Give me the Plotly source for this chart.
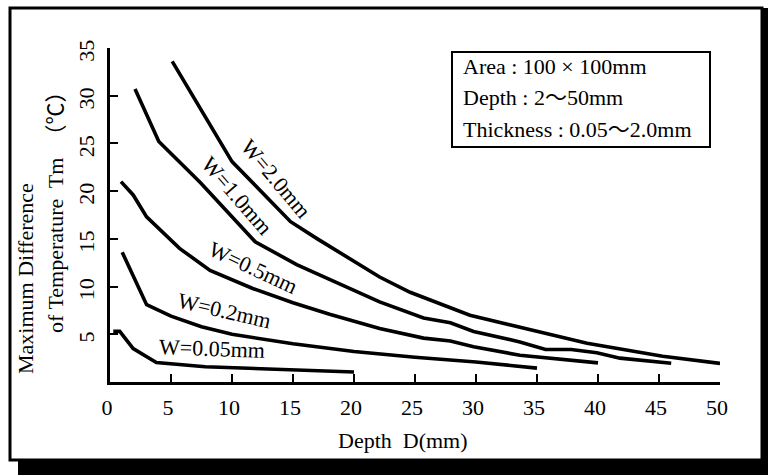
import plotly.graph_objects as go

# Curve data: depth D (mm) vs maximum temperature difference Tm (deg C) per wall thickness W
d_w200 = [5.1, 10.0, 14.8, 17.0, 22.1, 24.6, 29.5, 35.0, 39.1, 45.3, 50.0]
t_w200 = [33.6, 23.1, 16.8, 15.0, 11.0, 9.4, 7.0, 5.3, 4.05, 2.7, 1.95]

d_w100 = [2.05, 4.0, 7.4, 10.7, 11.9, 15.3, 20.0, 22.1, 25.7, 27.9, 29.8, 33.6, 35.7, 37.8, 39.9, 41.8, 46.0]
t_w100 = [30.7, 25.2, 20.9, 16.3, 14.7, 12.3, 9.6, 8.4, 6.7, 6.2, 5.3, 4.2, 3.4, 3.4, 3.07, 2.5, 1.96]

d_w050 = [0.9, 1.9, 3.0, 5.7, 8.2, 11.7, 15.0, 18.0, 22.1, 25.7, 27.9, 29.8, 33.6, 35.2, 40.0]
t_w050 = [21.0, 19.6, 17.3, 14.0, 11.7, 9.8, 8.3, 7.1, 5.6, 4.6, 4.3, 3.7, 2.8, 2.6, 2.0]

d_w020 = [1.0, 3.0, 5.0, 7.5, 10.0, 12.0, 15.0, 20.0, 25.0, 30.0, 35.0]
t_w020 = [13.6, 8.1, 6.9, 5.8, 5.0, 4.6, 4.0, 3.2, 2.6, 2.1, 1.45]

d_w005 = [0.27, 0.8, 1.9, 3.8, 7.8, 20.0]
t_w005 = [5.3, 5.3, 3.5, 2.05, 1.6, 1.05]

x_ticks = [0, 5, 10, 15, 20, 25, 30, 35, 40, 45, 50]
y_ticks = [5, 10, 15, 20, 25, 30, 35]

condition_lines = ["Area : 100 × 100mm", "Depth : 2～50mm", "Thickness : 0.05～2.0mm"]

SERIF = "Liberation Serif, Times New Roman, Noto Sans CJK JP, serif"
FS = 22

# plot area in pixels (768 x 475 page)
L, R, T, B = 110, 48, 48, 93
W_PX, H_PX = 768, 475
PW, PH = W_PX - L - R, H_PX - T - B


def px(x):
    return (x - L) / PW


def py(y):
    return (H_PX - B - y) / PH


def label(text, x, y, angle=0, xanchor="center", size=FS):
    return dict(text=text, x=px(x), y=py(y), xref="paper", yref="paper",
                xanchor=xanchor, yanchor="middle", showarrow=False, textangle=angle,
                font=dict(family=SERIF, size=size, color="black"))


fig = go.Figure()
series = [
    ("W=2.0mm", d_w200, t_w200),
    ("W=1.0mm", d_w100, t_w100),
    ("W=0.5mm", d_w050, t_w050),
    ("W=0.2mm", d_w020, t_w020),
    ("W=0.05mm", d_w005, t_w005),
]
for name, xs, ys in series:
    fig.add_trace(go.Scatter(x=xs, y=ys, mode="lines", name=name,
                             line=dict(color="black", width=3.6),
                             showlegend=False, hoverinfo="skip"))

# curve labels laid along each line: (text, x px, y px, angle)
curve_labels = [
    ("W=2.0mm", 276, 178, 50),
    ("W=1.0mm", 237, 195, 49),
    ("W=0.5mm", 253, 267, 25),
    ("W=0.2mm", 224, 310, 13),
    ("W=0.05mm", 212, 348, 2),
]
annotations = [label(t, x, y, a) for t, x, y, a in curve_labels]

# axis titles
annotations.append(label("Maximum Difference", 25, 279, -90))
annotations.append(label("of Temperature  Tm  （℃）", 55, 207, -90))
annotations.append(label("Depth  D(mm)", 403, 441))

# conditions box text
for i, line in enumerate(condition_lines):
    annotations.append(label(line, 461, 67 + 31 * i, xanchor="left"))

shapes = [
    # outer frame
    dict(type="rect", xref="paper", yref="paper", x0=px(10), x1=px(762), y0=py(460), y1=py(8),
         line=dict(color="black", width=3), fillcolor="rgba(0,0,0,0)", layer="below"),
    # drop shadow, right and bottom
    dict(type="rect", xref="paper", yref="paper", x0=px(762), x1=px(768), y0=py(475), y1=py(8),
         line=dict(width=0), fillcolor="black"),
    dict(type="rect", xref="paper", yref="paper", x0=px(18), x1=px(768), y0=py(475), y1=py(460),
         line=dict(width=0), fillcolor="black"),
    # conditions box
    dict(type="rect", xref="paper", yref="paper", x0=px(452), x1=px(710), y0=py(147), y1=py(52),
         line=dict(color="black", width=2), fillcolor="white"),
]

fig.update_layout(
    width=W_PX, height=H_PX,
    margin=dict(l=L, r=R, t=T, b=B, pad=0),
    paper_bgcolor="white", plot_bgcolor="white",
    annotations=annotations, shapes=shapes,
    xaxis=dict(range=[0, 50], tickvals=x_ticks, ticktext=[str(v) for v in x_ticks],
               ticks="inside", ticklen=8, tickwidth=2, tickcolor="black",
               showline=True, linecolor="black", linewidth=3, mirror=False,
               showgrid=False, zeroline=False, ticklabelshift=-3, ticklabelstandoff=4,
               tickfont=dict(family=SERIF, size=FS, color="black")),
    yaxis=dict(range=[0, 35], tickvals=y_ticks, ticktext=[str(v) for v in y_ticks],
               ticks="inside", ticklen=8, tickwidth=2, tickcolor="black", tickangle=-90,
               showline=True, linecolor="black", linewidth=3, mirror=False,
               showgrid=False, zeroline=False, ticklabelshift=6, ticklabelstandoff=4,
               tickfont=dict(family=SERIF, size=FS, color="black")),
)

fig.write_html("out.html")
